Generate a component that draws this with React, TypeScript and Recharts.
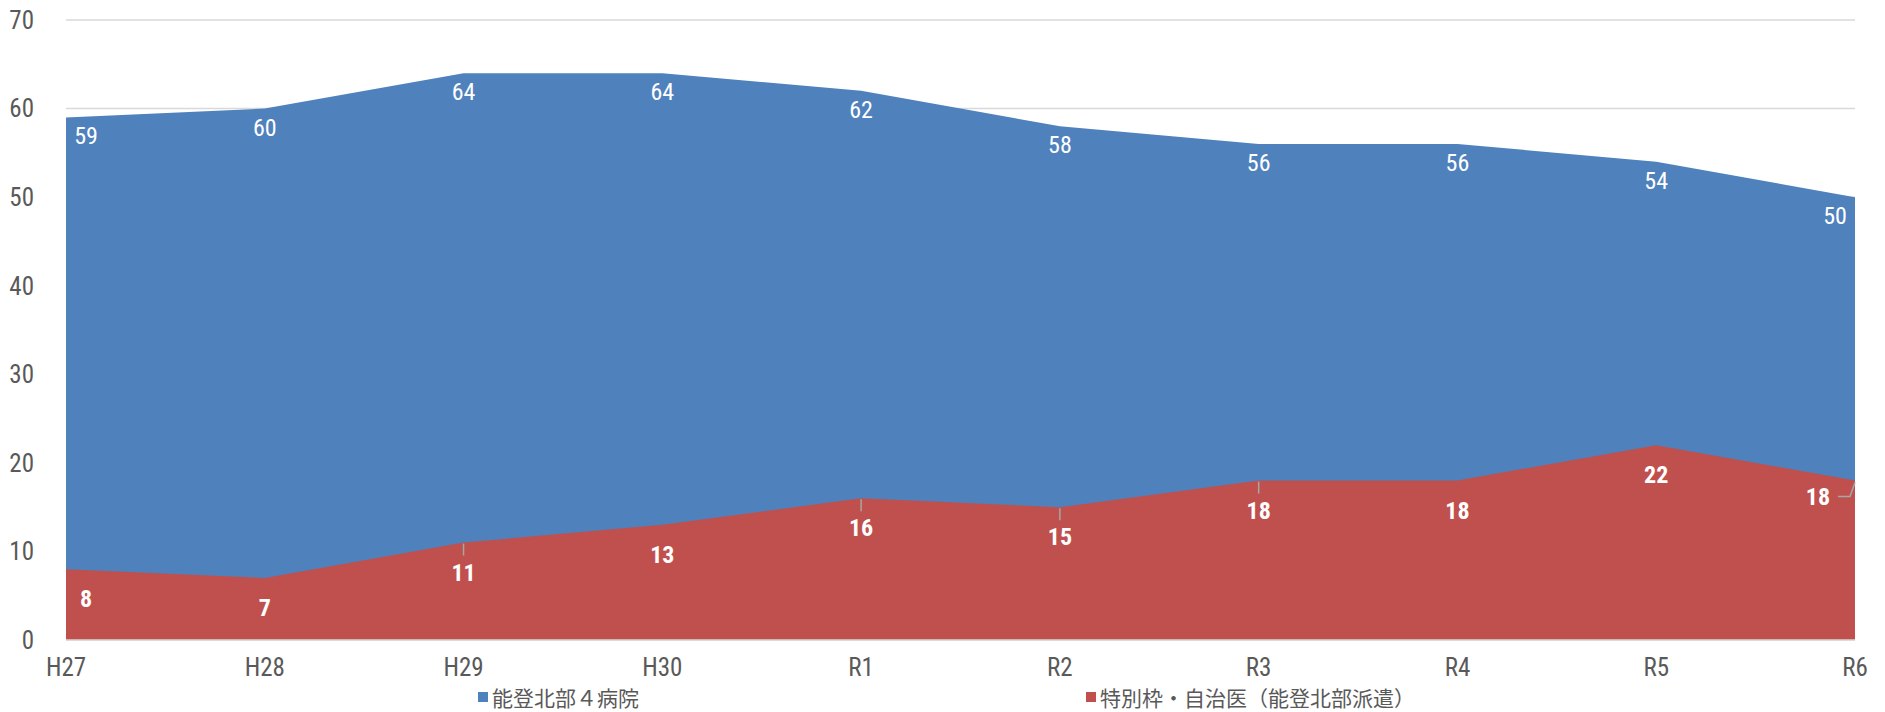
import { Area, AreaChart, CartesianGrid, Legend, XAxis, YAxis } from 'recharts';

const years = ['H27', 'H28', 'H29', 'H30', 'R1', 'R2', 'R3', 'R4', 'R5', 'R6'];
const hospitals = [59, 60, 64, 64, 62, 58, 56, 56, 54, 50];
const special = [8, 7, 11, 13, 16, 15, 18, 18, 22, 18];
const yTicks = [0, 10, 20, 30, 40, 50, 60, 70];

const BLUE_NAME = '能登北部４病院';
const RED_NAME = '特別枠・自治医（能登北部派遣）';

const data = years.map((year, i) => ({
  year,
  hospitals: hospitals[i],
  special: special[i],
}));

const NUM_FONT = "'Roboto Condensed','Liberation Sans Narrow','DejaVu Sans Condensed',Roboto,sans-serif";
const JP_FONT = "'Noto Sans CJK JP',sans-serif";
const TEXT_GRAY = '#595959';

// red labels that get a small leader line in the original
const redLeaders = [2, 4, 5, 6];

const BlueLabel = (props: any) => {
  const { x, y, value, index } = props;
  let lx = x;
  if (index === 0) lx = x + 20;
  if (index === years.length - 1) lx = x - 20;
  return (
    <text x={lx} y={y + 19} fill="#fff" fontSize={24} fontFamily={NUM_FONT} textAnchor="middle" dominantBaseline="central">
      {value}
    </text>
  );
};

const RedLabel = (props: any) => {
  const { x, y, value, index } = props;
  if (index === years.length - 1) {
    return (
      <g>
        <polyline points={`${x - 17},${y + 16} ${x - 5},${y + 16} ${x},${y + 2}`} fill="none" stroke="#A6A6A6" strokeWidth={1.5} />
        <text x={x - 37} y={y + 16} fill="#fff" fontSize={24} fontWeight="bold" fontFamily={NUM_FONT} textAnchor="middle" dominantBaseline="central">
          {value}
        </text>
      </g>
    );
  }
  const lx = index === 0 ? x + 20 : x;
  return (
    <g>
      {redLeaders.includes(index) && (
        <line x1={x} y1={y + 1} x2={x} y2={y + 13} stroke="#A6A6A6" strokeWidth={1.5} />
      )}
      <text x={lx} y={y + 30} fill="#fff" fontSize={24} fontWeight="bold" fontFamily={NUM_FONT} textAnchor="middle" dominantBaseline="central">
        {value}
      </text>
    </g>
  );
};

const LegendContent = () => {
  const items = [
    { name: BLUE_NAME, color: '#4F81BD', left: 478 },
    { name: RED_NAME, color: '#C0504D', left: 1086 },
  ];
  return (
    <div style={{ position: 'relative', height: 32 }}>
      {items.map((it) => (
        <div
          key={it.name}
          style={{
            position: 'absolute',
            left: it.left,
            top: 5,
            display: 'flex',
            alignItems: 'center',
            fontFamily: JP_FONT,
            fontSize: 21,
            lineHeight: '24px',
            color: TEXT_GRAY,
            whiteSpace: 'nowrap',
          }}
        >
          <span style={{ width: 10, height: 10, background: it.color, marginRight: 4, display: 'inline-block' }} />
          {it.name}
        </div>
      ))}
    </div>
  );
};

const App = () => {
  return (
    <div style={{ position: 'absolute', left: 0, top: 0, width: 1885, height: 712, background: '#fff' }}>
      <AreaChart width={1885} height={712} data={data} margin={{ top: 20, right: 30, left: 0, bottom: 0 }}>
        <CartesianGrid vertical={false} stroke="#D9D9D9" strokeWidth={1.5} />
        <XAxis
          dataKey="year"
          height={40}
          tickLine={false}
          axisLine={{ stroke: '#D9D9D9', strokeWidth: 1.5 }}
          tick={{ fill: TEXT_GRAY, fontSize: 25, fontFamily: NUM_FONT }}
          tickMargin={12}
          interval={0}
        />
        <YAxis
          width={66}
          domain={[0, 70]}
          ticks={yTicks}
          tickLine={false}
          axisLine={false}
          tickSize={0}
          tickMargin={32}
          tick={{ fill: TEXT_GRAY, fontSize: 25, fontFamily: NUM_FONT }}
        />
        <Legend verticalAlign="bottom" height={32} content={<LegendContent />} wrapperStyle={{ left: 0, width: 1885 }} />
        <Area
          type="linear"
          dataKey="hospitals"
          name={BLUE_NAME}
          stroke="none"
          fill="#4F81BD"
          fillOpacity={1}
          isAnimationActive={false}
          label={<BlueLabel />}
        />
        <Area
          type="linear"
          dataKey="special"
          name={RED_NAME}
          stroke="none"
          fill="#C0504D"
          fillOpacity={1}
          isAnimationActive={false}
          label={<RedLabel />}
        />
      </AreaChart>
    </div>
  );
};

export default App;
